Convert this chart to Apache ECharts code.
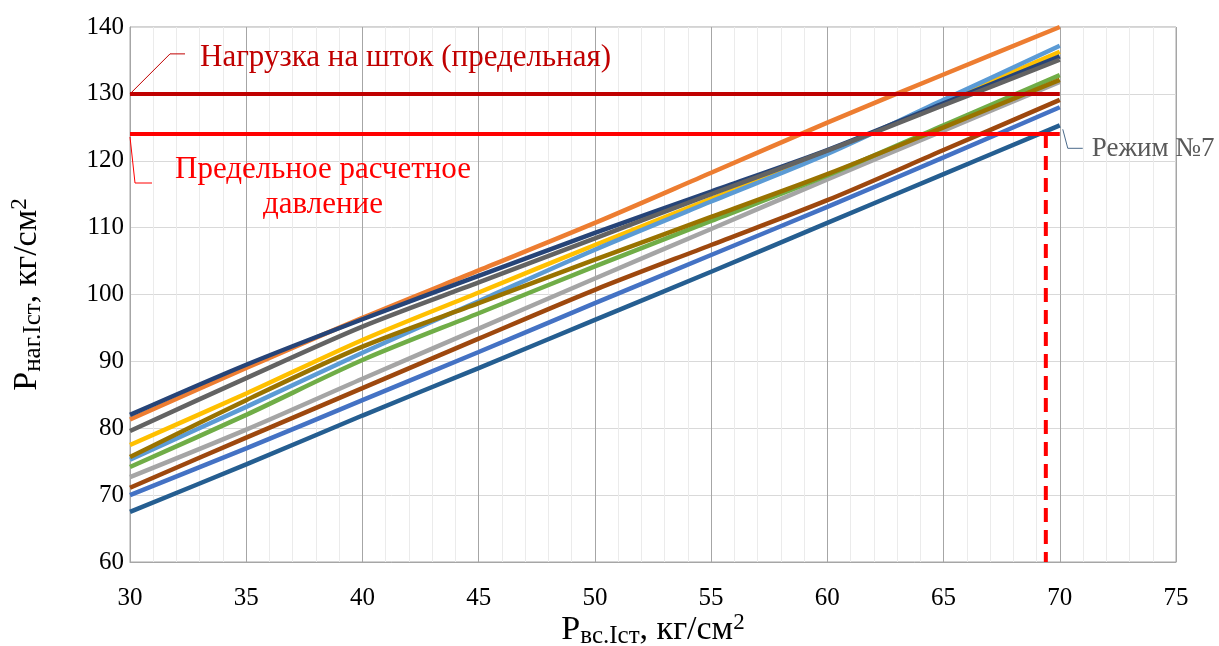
<!DOCTYPE html>
<html>
<head>
<meta charset="utf-8">
<script src="https://cdn.jsdelivr.net/npm/echarts@6/dist/echarts.min.js"></script>
<style>
html, body { margin: 0; padding: 0; background: #ffffff; }
#chart { width: 1219px; height: 646px; }
</style>
</head>
<body>
<div id="chart"></div>
<script>
// Suction pressure of the 1st stage, kg/cm2 (x values of every curve)
const pressureIn = [30, 35, 40, 45, 50, 55, 60, 65, 70];

// Rod load / discharge pressure of the 1st stage for each operating mode, kg/cm2
const mode1 = [70.0, 77.0, 84.2, 91.4, 98.7, 105.9, 113.1, 120.5, 128.0];
const mode2 = [81.3, 89.0, 96.5, 103.6, 110.7, 118.2, 125.7, 132.9, 140.0];
const mode3 = [72.7, 79.8, 87.4, 94.9, 102.4, 109.8, 117.2, 124.5, 131.8];
const mode4 = [77.5, 85.2, 93.2, 100.3, 107.4, 114.3, 121.3, 128.8, 136.3];
const mode5 = [75.3, 83.2, 91.3, 99.0, 106.7, 113.9, 121.0, 129.1, 137.2];
const mode6 = [74.2, 82.0, 90.2, 97.2, 104.2, 111.0, 117.8, 125.3, 132.8];
const mode8 = [82.0, 89.5, 96.3, 102.8, 109.2, 115.4, 121.6, 128.6, 135.6];
const mode9 = [71.1, 78.6, 86.0, 93.4, 100.7, 107.4, 114.1, 121.6, 129.1];
const mode10 = [79.6, 87.5, 95.2, 101.8, 108.4, 115.0, 121.5, 128.3, 135.1];
const mode11 = [75.7, 84.2, 92.2, 98.7, 105.2, 111.6, 118.0, 125.0, 132.1];
const mode7 = [67.5, 74.6, 81.9, 89.0, 96.2, 103.4, 110.7, 118.0, 125.3];

// Limits
const rodLoadLimit = 130;        // Нагрузка на шток (предельная)
const designPressureLimit = 124; // Предельное расчетное давление
const limitRange = [30, 70];
const mode7LimitX = 69.4;        // where mode 7 reaches the design pressure limit

const seriesDefs = [
  { name: 'Режим №1', data: mode1, color: '#4472C4' },
  { name: 'Режим №2', data: mode2, color: '#ED7D31' },
  { name: 'Режим №3', data: mode3, color: '#A5A5A5' },
  { name: 'Режим №4', data: mode4, color: '#FFC000' },
  { name: 'Режим №5', data: mode5, color: '#5B9BD5' },
  { name: 'Режим №6', data: mode6, color: '#70AD47' },
  { name: 'Режим №8', data: mode8, color: '#264478' },
  { name: 'Режим №9', data: mode9, color: '#9E480E' },
  { name: 'Режим №10', data: mode10, color: '#636363' },
  { name: 'Режим №11', data: mode11, color: '#997300' },
  { name: 'Режим №7', data: mode7, color: '#255E91' }
];

const FONT = '"Liberation Serif", "Times New Roman", serif';

const chart = echarts.init(document.getElementById('chart'), null, { renderer: 'canvas' });

const series = seriesDefs.map(d => ({
  name: d.name,
  type: 'line',
  data: pressureIn.map((x, i) => [x, d.data[i]]),
  smooth: 0.3,
  symbol: 'none',
  lineStyle: { color: d.color, width: 4.5 },
  z: 2
}));

series.push({
  name: 'Нагрузка на шток (предельная)',
  type: 'line',
  data: limitRange.map(x => [x, rodLoadLimit]),
  symbol: 'none',
  lineStyle: { color: '#C00000', width: 4 },
  z: 5
});
series.push({
  name: 'Предельное расчетное давление',
  type: 'line',
  data: limitRange.map(x => [x, designPressureLimit]),
  symbol: 'none',
  lineStyle: { color: '#FF0000', width: 4 },
  z: 5
});
series.push({
  name: 'Режим №7 — предел',
  type: 'line',
  data: [[mode7LimitX, designPressureLimit], [mode7LimitX, 60]],
  symbol: 'none',
  lineStyle: { color: '#FF0000', width: 4, type: [14, 8] },
  z: 5
});

const titleRich = {
  p: { fontFamily: FONT, fontSize: 34, color: '#000', lineHeight: 38, verticalAlign: 'middle' },
  sub: { fontFamily: FONT, fontSize: 25, color: '#000', lineHeight: 23, verticalAlign: 'bottom' },
  t: { fontFamily: FONT, fontSize: 34, color: '#000', lineHeight: 38, verticalAlign: 'middle' },
  sup: { fontFamily: FONT, fontSize: 23, color: '#000', lineHeight: 23, verticalAlign: 'top' }
};

chart.setOption({
  animation: false,
  backgroundColor: '#ffffff',
  grid: {
    left: 130, right: 43, top: 27, bottom: 84,
    outerBoundsMode: 'none',
    containLabel: false,
    show: true, borderColor: '#A6A6A6', borderWidth: 1
  },
  xAxis: {
    type: 'value',
    min: 30, max: 75, interval: 5,
    axisLine: { show: true, lineStyle: { color: '#A6A6A6', width: 1 } },
    axisTick: { show: false },
    axisLabel: { color: '#000000', fontFamily: FONT, fontSize: 25, margin: 24 },
    splitLine: { show: true, lineStyle: { color: '#A6A6A6', width: 1 } },
    minorTick: { show: false, splitNumber: 5 },
    minorSplitLine: { show: true, lineStyle: { color: '#EBEBEB', width: 1 } },
    name: '{p|P}{sub|вс.Iст}{t|, кг/см}{sup|2}',
    nameLocation: 'middle',
    nameGap: 49,
    nameMoveOverlap: false,
    nameTextStyle: { rich: titleRich }
  },
  yAxis: {
    type: 'value',
    min: 60, max: 140, interval: 10,
    axisLine: { show: true, lineStyle: { color: '#A6A6A6', width: 1 } },
    axisTick: { show: false },
    axisLabel: { color: '#000000', fontFamily: FONT, fontSize: 25, margin: 6 },
    splitLine: { show: true, lineStyle: { color: '#D9D9D9', width: 1 } },
    name: '{p|P}{sub|наг.Iст}{t|, кг/см}{sup|2}',
    nameLocation: 'middle',
    nameRotate: 90,
    nameGap: 84,
    nameMoveOverlap: false,
    nameTextStyle: { padding: [0, 0, 0, 0], rich: titleRich }
  },
  series: series
});

// Callouts anchored to the limit lines and to the end of mode 7
const pRod = chart.convertToPixel({ gridIndex: 0 }, [limitRange[0], rodLoadLimit]);
const pDesign = chart.convertToPixel({ gridIndex: 0 }, [limitRange[0], designPressureLimit]);
const pMode7 = chart.convertToPixel({ gridIndex: 0 }, [pressureIn[pressureIn.length - 1], mode7[mode7.length - 1]]);

chart.setOption({
  graphic: [
    {
      type: 'polyline', z: 10, silent: true,
      shape: { points: [[pRod[0], pRod[1]], [pRod[0] + 40, pRod[1] - 40], [pRod[0] + 55, pRod[1] - 40]] },
      style: { stroke: '#C00000', lineWidth: 1, fill: null }
    },
    {
      type: 'text', z: 10, silent: true,
      x: pRod[0] + 70, y: pRod[1] - 36,
      style: {
        text: 'Нагрузка на шток (предельная)',
        font: '31px ' + FONT, fill: '#C00000',
        align: 'left', verticalAlign: 'middle'
      }
    },
    {
      type: 'polyline', z: 10, silent: true,
      shape: { points: [[pDesign[0], pDesign[1] + 3], [pDesign[0] + 5, pDesign[1] + 49], [pDesign[0] + 22, pDesign[1] + 49]] },
      style: { stroke: '#FF0000', lineWidth: 1, fill: null }
    },
    {
      type: 'text', z: 10, silent: true,
      x: pDesign[0] + 193, y: pDesign[1] + 53,
      style: {
        text: 'Предельное расчетное\nдавление',
        font: '31px ' + FONT, fill: '#FF0000', lineHeight: 35,
        align: 'center', verticalAlign: 'middle'
      }
    },
    {
      type: 'polyline', z: 10, silent: true,
      shape: { points: [[pMode7[0] + 3, pMode7[1] + 4], [pMode7[0] + 8, pMode7[1] + 23], [pMode7[0] + 23, pMode7[1] + 23]] },
      style: { stroke: '#4A6A8A', lineWidth: 1, fill: null }
    },
    {
      type: 'text', z: 10, silent: true,
      x: pMode7[0] + 32, y: pMode7[1] + 24,
      style: {
        text: 'Режим №7',
        font: '27px ' + FONT, fill: '#595959',
        align: 'left', verticalAlign: 'middle'
      }
    }
  ]
});
</script>
</body>
</html>
